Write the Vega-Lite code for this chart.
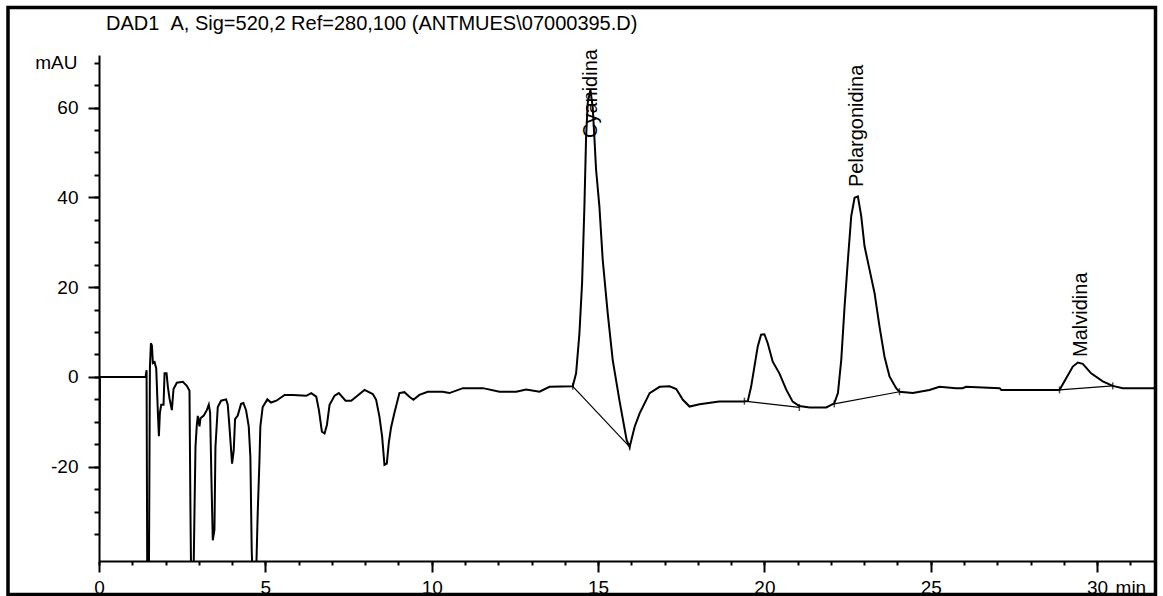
{
  "$schema": "https://vega.github.io/schema/vega-lite/v6.json",
  "width": 1055,
  "height": 506,
  "autosize": {"type": "none"},
  "padding": {"left": 99, "top": 55, "right": 9, "bottom": 35},
  "background": "white",
  "config": {"view": {"stroke": null}, "font": "Liberation Sans", "text": {"font": "Liberation Sans"}},
  "title": {
    "text": "DAD1 \u00a0A, Sig=520,2 Ref=280,100 (ANTMUES\\07000395.D)",
    "anchor": "start",
    "frame": "group",
    "fontSize": 20,
    "fontWeight": "normal",
    "font": "Liberation Sans",
    "color": "black",
    "dx": 7,
    "offset": -44,
    "baseline": "alphabetic"
  },
  "resolve": {"axis": {"x": "independent", "y": "independent"}},
  "datasets": {
    "signal": [
      {"t": 0, "v": -40}, {"t": 0.03, "v": 0}, {"t": 1.40, "v": 0}, {"t": 1.43, "v": 1.5},
      {"t": 1.45, "v": -45}, {"t": 1.50, "v": -45}, {"t": 1.53, "v": 2}, {"t": 1.56, "v": 7.5},
      {"t": 1.59, "v": 7.0}, {"t": 1.62, "v": 3.1}, {"t": 1.67, "v": 3.3}, {"t": 1.72, "v": 1.9},
      {"t": 1.77, "v": -8}, {"t": 1.80, "v": -13.2}, {"t": 1.83, "v": -8}, {"t": 1.87, "v": -6.2},
      {"t": 1.94, "v": -6.2}, {"t": 1.97, "v": 0.8}, {"t": 2.03, "v": 0.8}, {"t": 2.07, "v": -2.2},
      {"t": 2.12, "v": -4.8}, {"t": 2.19, "v": -7.4}, {"t": 2.24, "v": -2.7}, {"t": 2.34, "v": -1.3},
      {"t": 2.52, "v": -1.1}, {"t": 2.64, "v": -2.0}, {"t": 2.72, "v": -3.1}, {"t": 2.75, "v": -31},
      {"t": 2.77, "v": -45}, {"t": 2.84, "v": -45}, {"t": 2.87, "v": -30}, {"t": 2.90, "v": -15.6},
      {"t": 2.94, "v": -10.7}, {"t": 2.97, "v": -8.7}, {"t": 3.02, "v": -11}, {"t": 3.05, "v": -9.2},
      {"t": 3.15, "v": -8.6}, {"t": 3.24, "v": -7.4}, {"t": 3.30, "v": -6.2}, {"t": 3.34, "v": -8},
      {"t": 3.38, "v": -23}, {"t": 3.42, "v": -36.4}, {"t": 3.47, "v": -34}, {"t": 3.50, "v": -15.6},
      {"t": 3.57, "v": -6.7}, {"t": 3.67, "v": -5.3}, {"t": 3.82, "v": -5.0}, {"t": 3.87, "v": -6.2},
      {"t": 3.92, "v": -11}, {"t": 4.00, "v": -19.3}, {"t": 4.05, "v": -16.3}, {"t": 4.09, "v": -9.4},
      {"t": 4.17, "v": -8.6}, {"t": 4.27, "v": -6.0}, {"t": 4.34, "v": -5.8}, {"t": 4.42, "v": -7.4},
      {"t": 4.50, "v": -11}, {"t": 4.55, "v": -17.8}, {"t": 4.59, "v": -38.6}, {"t": 4.62, "v": -45},
      {"t": 4.72, "v": -45}, {"t": 4.77, "v": -30.4}, {"t": 4.82, "v": -19.3}, {"t": 4.85, "v": -11},
      {"t": 4.92, "v": -6.7}, {"t": 5.06, "v": -5.0}, {"t": 5.17, "v": -5.7}, {"t": 5.33, "v": -5.3},
      {"t": 5.58, "v": -4.0}, {"t": 5.83, "v": -4.0}, {"t": 6.23, "v": -4.2}, {"t": 6.38, "v": -3.6},
      {"t": 6.53, "v": -4.4}, {"t": 6.61, "v": -7.4}, {"t": 6.70, "v": -12.2}, {"t": 6.78, "v": -12.6},
      {"t": 6.85, "v": -10.7}, {"t": 6.93, "v": -6.2}, {"t": 7.08, "v": -4.2}, {"t": 7.21, "v": -3.6},
      {"t": 7.41, "v": -5.3}, {"t": 7.58, "v": -5.3}, {"t": 7.73, "v": -4.4}, {"t": 7.98, "v": -2.9},
      {"t": 8.23, "v": -3.8}, {"t": 8.33, "v": -5.1}, {"t": 8.43, "v": -8.9}, {"t": 8.51, "v": -13.3},
      {"t": 8.58, "v": -19.6}, {"t": 8.65, "v": -19.3}, {"t": 8.71, "v": -14.7}, {"t": 8.78, "v": -11.2},
      {"t": 8.88, "v": -8.0}, {"t": 9.03, "v": -3.6}, {"t": 9.18, "v": -3.4}, {"t": 9.33, "v": -4.4},
      {"t": 9.45, "v": -5.1}, {"t": 9.63, "v": -4.0}, {"t": 9.88, "v": -3.3}, {"t": 10.33, "v": -3.3},
      {"t": 10.53, "v": -3.6}, {"t": 10.94, "v": -2.5}, {"t": 11.54, "v": -2.5}, {"t": 12.04, "v": -3.3},
      {"t": 12.54, "v": -3.3}, {"t": 12.84, "v": -2.8}, {"t": 13.24, "v": -3.3}, {"t": 13.54, "v": -2.2},
      {"t": 14.24, "v": -2.1}, {"t": 14.34, "v": 0.8}, {"t": 14.44, "v": 9.7}, {"t": 14.52, "v": 20.9},
      {"t": 14.59, "v": 38}, {"t": 14.64, "v": 53.3}, {"t": 14.69, "v": 61}, {"t": 14.77, "v": 64},
      {"t": 14.84, "v": 60}, {"t": 14.89, "v": 53.3}, {"t": 14.94, "v": 46.2}, {"t": 15.04, "v": 38},
      {"t": 15.14, "v": 26.1}, {"t": 15.29, "v": 14.2}, {"t": 15.44, "v": 3.8}, {"t": 15.64, "v": -5.1},
      {"t": 15.86, "v": -14.1}, {"t": 15.95, "v": -15.6}, {"t": 16.10, "v": -11.1}, {"t": 16.25, "v": -8.1},
      {"t": 16.55, "v": -3.6}, {"t": 16.85, "v": -2.2}, {"t": 17.15, "v": -2.1}, {"t": 17.35, "v": -2.7},
      {"t": 17.55, "v": -5.1}, {"t": 17.75, "v": -6.6}, {"t": 18.05, "v": -6.1}, {"t": 18.64, "v": -5.5},
      {"t": 19.35, "v": -5.5}, {"t": 19.50, "v": -5.4}, {"t": 19.60, "v": -2.2}, {"t": 19.70, "v": 2.3},
      {"t": 19.80, "v": 6.8}, {"t": 19.90, "v": 9.4}, {"t": 20.00, "v": 9.5}, {"t": 20.10, "v": 7.5},
      {"t": 20.25, "v": 3.4}, {"t": 20.45, "v": 0.8}, {"t": 20.66, "v": -2.9}, {"t": 20.85, "v": -5.5},
      {"t": 21.05, "v": -6.5}, {"t": 21.36, "v": -6.8}, {"t": 21.86, "v": -6.8}, {"t": 22.10, "v": -5.9},
      {"t": 22.21, "v": -3.6}, {"t": 22.31, "v": 3.8}, {"t": 22.41, "v": 15.7}, {"t": 22.51, "v": 26.1},
      {"t": 22.61, "v": 35.8}, {"t": 22.71, "v": 39.9}, {"t": 22.81, "v": 40.2}, {"t": 22.91, "v": 35.8},
      {"t": 23.01, "v": 29.1}, {"t": 23.16, "v": 23.9}, {"t": 23.31, "v": 18.7}, {"t": 23.46, "v": 11.2},
      {"t": 23.61, "v": 4.5}, {"t": 23.76, "v": 0.1}, {"t": 23.96, "v": -2.5}, {"t": 24.06, "v": -3.3},
      {"t": 24.46, "v": -3.6}, {"t": 24.96, "v": -2.9}, {"t": 25.26, "v": -2.2}, {"t": 25.76, "v": -2.5},
      {"t": 25.96, "v": -2.5}, {"t": 26.06, "v": -2.2}, {"t": 27.07, "v": -2.5}, {"t": 27.12, "v": -2.9},
      {"t": 28.87, "v": -2.9}, {"t": 29.07, "v": -0.3}, {"t": 29.27, "v": 2.3}, {"t": 29.42, "v": 3.2},
      {"t": 29.57, "v": 2.9}, {"t": 29.82, "v": 0.8}, {"t": 30.17, "v": -1.0}, {"t": 30.47, "v": -2.0},
      {"t": 30.77, "v": -2.5}, {"t": 31.71, "v": -2.5}
    ],
    "baselines": [
      {"peak": "Cyanidina", "t": 14.24, "v": -2.1}, {"peak": "Cyanidina", "t": 15.95, "v": -15.6},
      {"peak": "P20", "t": 19.40, "v": -5.4}, {"peak": "P20", "t": 21.05, "v": -6.8},
      {"peak": "Pelargonidina", "t": 22.10, "v": -6.0}, {"peak": "Pelargonidina", "t": 24.06, "v": -3.3},
      {"peak": "Malvidina", "t": 28.87, "v": -2.9}, {"peak": "Malvidina", "t": 30.47, "v": -2.0}
    ],
    "labels": [
      {"name": "Cyanidina", "rt": 14.80, "ly": 53.2},
      {"name": "Pelargonidina", "rt": 22.77, "ly": 42.3},
      {"name": "Malvidina", "rt": 29.52, "ly": 4.45}
    ]
  },
  "layer": [
    {
      "data": {"name": "signal"},
      "mark": {"type": "line", "color": "black", "strokeWidth": 2, "clip": true},
      "encoding": {
        "x": {
          "field": "t", "type": "quantitative",
          "scale": {"domain": [0, 31.71], "nice": false, "zero": false},
          "axis": {
            "orient": "bottom", "title": null, "grid": false,
            "values": [0, 5, 10, 15, 20, 25, 30],
            "tickSize": 11, "tickColor": "black", "tickWidth": 2,
            "domain": true, "domainColor": "black", "domainWidth": 2,
            "labelFontSize": 19, "labelColor": "black", "labelFont": "Liberation Sans",
            "labelPadding": 6, "labelFlush": false, "labelOverlap": false
          }
        },
        "y": {
          "field": "v", "type": "quantitative",
          "scale": {"domain": [-41, 71.7], "nice": false, "zero": false},
          "axis": {
            "orient": "left", "title": null, "grid": false,
            "values": [-20, 0, 20, 40, 60],
            "labelExpr": "'' + datum.value",
            "tickSize": 11, "tickColor": "black", "tickWidth": 2,
            "domain": true, "domainColor": "black", "domainWidth": 2,
            "labelFontSize": 19, "labelColor": "black", "labelFont": "Liberation Sans",
            "labelPadding": 10, "labelFlush": false, "labelOverlap": false
          }
        }
      }
    },
    {
      "data": {"name": "baselines"},
      "mark": {"type": "line", "color": "black", "strokeWidth": 1.2, "clip": true},
      "encoding": {
        "x": {
          "field": "t", "type": "quantitative",
          "axis": {
            "orient": "bottom", "title": null, "grid": false, "domain": false,
            "values": [0,1,2,3,4,5,6,7,8,9,10,11,12,13,14,15,16,17,18,19,20,21,22,23,24,25,26,27,28,29,30,31],
            "labelExpr": "datum.value === 31 ? 'min' : ''",
            "tickSize": 4, "tickColor": "black", "tickWidth": 2,
            "labelFontSize": 19, "labelColor": "black", "labelFont": "Liberation Sans",
            "labelPadding": 13, "labelFlush": false, "labelOverlap": false
          }
        },
        "y": {
          "field": "v", "type": "quantitative",
          "axis": {
            "orient": "left", "title": null, "grid": false, "domain": false,
            "values": [-35,-30,-25,-20,-15,-10,-5,0,5,10,15,20,25,30,35,40,45,50,55,60,65,70],
            "labelExpr": "datum.value === 70 ? 'mAU' : ''",
            "tickSize": 5, "tickColor": "black", "tickWidth": 2,
            "labelFontSize": 19, "labelColor": "black", "labelFont": "Liberation Sans",
            "labelPadding": 17, "labelFlush": false, "labelOverlap": false
          }
        },
        "detail": {"field": "peak"}
      }
    },
    {
      "data": {"name": "baselines"},
      "mark": {"type": "tick", "orient": "vertical", "color": "black", "size": 7, "thickness": 1.5},
      "encoding": {
        "x": {"field": "t", "type": "quantitative", "axis": null},
        "y": {"field": "v", "type": "quantitative", "axis": null}
      }
    },
    {
      "data": {"name": "labels"},
      "mark": {"type": "text", "angle": 270, "align": "left", "baseline": "middle", "fontSize": 20, "color": "black", "font": "Liberation Sans"},
      "encoding": {
        "x": {"field": "rt", "type": "quantitative", "axis": null},
        "y": {"field": "ly", "type": "quantitative", "axis": null},
        "text": {"field": "name"}
      }
    },
    {
      "data": {"values": [{}]},
      "mark": {"type": "rect", "fill": "transparent", "stroke": "black", "strokeWidth": 3.5, "clip": false},
      "encoding": {
        "x": {"datum": -2.735, "type": "quantitative", "axis": null},
        "x2": {"datum": 31.755},
        "y": {"datum": 82.28, "type": "quantitative", "axis": null},
        "y2": {"datum": -48.46}
      }
    }
  ]
}
